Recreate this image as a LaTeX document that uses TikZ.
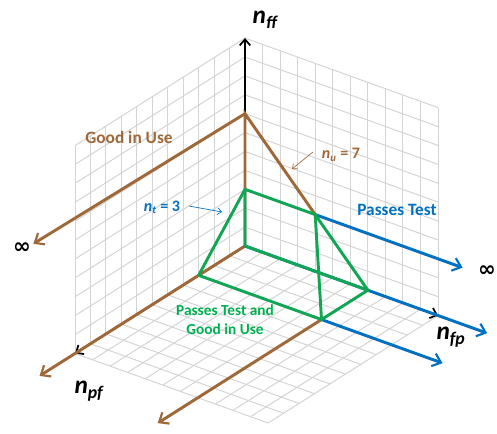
\documentclass[tikz,border=0pt]{standalone}
\usepackage{fontspec}
\setmainfont{Carlito}
\newfontfamily\djv{DejaVu Sans}
\usetikzlibrary{arrows.meta}
\definecolor{brn}{RGB}{158,104,56}
\definecolor{blu}{RGB}{0,112,192}
\definecolor{grn}{RGB}{18,166,84}
\definecolor{grntxt}{RGB}{0,176,80}
\definecolor{gridc}{RGB}{212,212,212}
\begin{document}
\begin{tikzpicture}[x=0.75pt,y=-0.75pt,
  gridline/.style={draw=gridc,line width=0.75pt},
  axisline/.style={draw=black,line width=1.5pt,-{Straight Barb[length=4.5pt,width=8pt,line width=1.3pt]}},
  region/.style={line width=2.2pt,line cap=round},
  regarrow/.style={region,-{Straight Barb[length=6pt,width=10pt,line width=1.6pt]}},
  note/.style={line width=0.5pt,-{Straight Barb[length=3pt,width=5pt,line width=0.5pt]}},
  lab/.style={font=\bfseries\fontsize{13}{15}\selectfont,inner sep=0pt},
  small/.style={font=\bfseries\fontsize{12}{14}\selectfont,inner sep=0pt},
  green/.style={font=\bfseries\fontsize{11.5}{13}\selectfont,inner sep=0pt},
  axlab/.style={font=\bfseries\itshape\fontsize{19}{20}\selectfont,inner sep=0pt},
  inf/.style={font=\djv\bfseries\fontsize{16}{18}\selectfont,inner sep=0pt}]
\useasboundingbox (0,0) rectangle (497,433);
\begin{scope}[shift={(245,246)},x={(13.1625pt,-4.74pt)},y={(-11.5875pt,-7.3275pt)},z={(0pt,14.175pt)}]
% grids
\foreach \i in {0,...,11}{
  \draw[gridline] (\i,0,0) -- (\i,0,11);
  \draw[gridline] (0,0,\i) -- (11,0,\i);
  \draw[gridline] (0,\i,0) -- (0,\i,11);
  \draw[gridline] (0,0,\i) -- (0,11,\i);
  \draw[gridline] (\i,0,0) -- (\i,11,0);
  \draw[gridline] (0,\i,0) -- (11,\i,0);
}
% points
\coordinate (O) at (0,0,0);
\coordinate (Z3) at (0,0,3);
\coordinate (Z7) at (0,0,7);
\coordinate (Z11) at (0,0,11);
\coordinate (X7) at (7,0,0);
\coordinate (X11) at (11,0,0);
\coordinate (Y3) at (0,3,0);
\coordinate (Y11) at (0,11,0);
\coordinate (P73) at (7,3,0);
\coordinate (Q) at (4,0,3);
\coordinate (BT) at (0,13.7,7.2);
\coordinate (BM) at (0,13.3,0);
\coordinate (BB) at (7,13.6,0);
\coordinate (LT) at (12.4,0,3);
\coordinate (LM) at (13.8,0,0);
\coordinate (LB) at (13.9,3,0);
\end{scope}
% axes
\draw[axisline] (O) -- (Z11);
\draw[axisline] (O) -- (X11);
\draw[axisline] (O) -- (Y11);
% good in use (brown)
\draw[region,brn] (O) -- (Z7) -- (Q);
\draw[regarrow,brn] (Z7) -- (BT);
\draw[regarrow,brn] (O) -- (BM);
\draw[regarrow,brn] (P73) -- (BB);
% passes test (blue)
\draw[region,blu] (O) -- (X7);
\draw[regarrow,blu] (Q) -- (LT);
\draw[regarrow,blu] (X7) -- (LM);
\draw[regarrow,blu] (P73) -- (LB);
% both (green)
\draw[region,grn,line join=round] (O) -- (Z3) -- (Q) -- (X7) -- cycle;
\draw[region,grn,line join=round] (Z3) -- (Y3) -- (P73) -- (X7);
\draw[region,grn] (Q) -- (P73);
% labels
\node[axlab] (nff) at (265,20) {n\textsubscript{ff}};
\node[axlab] (nfp) at (451,337) {n\textsubscript{fp}};
\node[axlab] (npf) at (89,391) {n\textsubscript{pf}};
\node[inf] (inf1) at (22,248) {∞};
\node[inf] (inf2) at (487,271) {∞};
\node[lab,text=brn] (giu) at (129,137) {Good in Use};
\node[lab,text=blu] (pt) at (397,210) {Passes Test};
\node[small,text=brn] (nu) at (341,155) {\textit{n}\textsubscript{\textit{u}} = 7};
\node[small,text=blu] (nt) at (162,207) {\textit{n}\textsubscript{\textit{t}} = 3};
\node[green,text=grntxt,align=center] (both) at (225,320) {Passes Test and\\[1pt] Good in Use};
\coordinate (nua) at (313,152);
\coordinate (nub) at (292,169);
\coordinate (nta) at (189,206);
\coordinate (ntb) at (222,212);
\draw[note,brn] (nua) -- (nub);
\draw[note,blu] (nta) -- (ntb);
\end{tikzpicture}
\end{document}
